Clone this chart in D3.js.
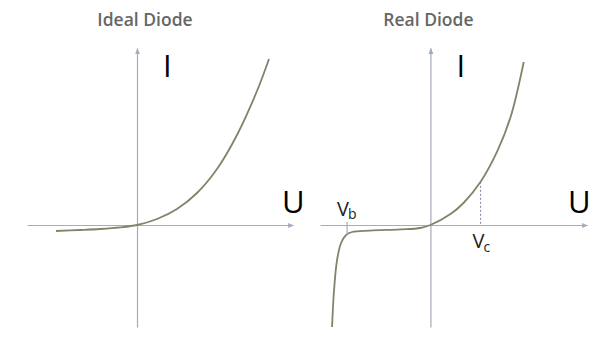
<!DOCTYPE html>
<html>
<head>
<meta charset="utf-8">
<script src="https://cdn.jsdelivr.net/npm/d3@7"></script>
<style>
  body { margin: 0; background: #fff; }
  svg { display: block; }
</style>
</head>
<body>
<div id="chart"></div>
<script>
// curve samples (U, I in arbitrary units)
const idealU = [-4.05, -2.85, -1.85, -0.85, 0, 1, 2, 3, 4, 5, 6, 6.6];
const idealI = [-0.3, -0.25, -0.2, -0.12, 0, 0.3, 0.8, 1.6, 2.8, 4.5, 6.7, 8.3];

const realU = [-4.9, -4.8, -4.65, -4.45, -4.2, -3.9, -3.0, -1.5, -0.5, 0, 1.0, 1.65, 2.5, 3.35, 4.0, 4.65];
const realI = [-5.1, -3.25, -1.75, -0.9, -0.5, -0.35, -0.28, -0.22, -0.15, 0, 0.55, 1.1, 2.16, 3.73, 5.42, 8.15];

const titles = ["Ideal Diode", "Real Diode"];
const axisLabelX = "U";
const axisLabelY = "I";

// marked voltages on the real diode
const vb = -4.15;
const vc = 2.5;
const vcCurrent = 2.16;

const width = 603;
const height = 339;

const svg = d3.select("#chart").append("svg")
    .attr("width", width)
    .attr("height", height)
    .attr("viewBox", [0, 0, width, height]);

const axisColor = "#a4abbb";
const curveColor = "#85826a";
const font = "Open Sans, sans-serif";

svg.append("defs").append("marker")
    .attr("id", "arrow")
    .attr("viewBox", "0 0 10 10")
    .attr("refX", 9)
    .attr("refY", 5)
    .attr("markerWidth", 6)
    .attr("markerHeight", 6)
    .attr("markerUnits", "userSpaceOnUse")
    .attr("orient", "auto")
  .append("path")
    .attr("d", "M0,1 L10,5 L0,9 Z")
    .attr("fill", axisColor);

function panel(left, right, uVals, iVals, title, titleShift, uLabelAt) {
  const x = d3.scaleLinear().domain([-5.5, 7.8]).range([left, right]);
  const y = d3.scaleLinear().domain([-5.1, 8.85]).range([327, 48]);

  const g = svg.append("g");

  // x axis through I = 0
  g.append("g")
      .attr("transform", `translate(0,${y(0)})`)
      .call(d3.axisBottom(x).tickValues([]).tickSizeOuter(0))
      .call(a => a.select(".domain")
          .attr("stroke", axisColor)
          .attr("stroke-width", 1.2)
          .attr("marker-end", "url(#arrow)"));

  // y axis through U = 0
  g.append("g")
      .attr("transform", `translate(${x(0)},0)`)
      .call(d3.axisLeft(y).tickValues([]).tickSizeOuter(0))
      .call(a => a.select(".domain")
          .attr("stroke", axisColor)
          .attr("stroke-width", 1.2)
          .attr("marker-end", "url(#arrow)"));

  const pts = uVals.map((u, i) => [u, iVals[i]]);
  const line = d3.line()
      .x(d => x(d[0]))
      .y(d => y(d[1]))
      .curve(d3.curveCatmullRom.alpha(0.5));

  g.append("path")
      .datum(pts)
      .attr("fill", "none")
      .attr("stroke", curveColor)
      .attr("stroke-width", 1.8)
      .attr("d", line);

  g.append("text")
      .attr("x", x(0) + titleShift)
      .attr("y", 26)
      .attr("text-anchor", "middle")
      .attr("font-family", font)
      .attr("font-weight", 600)
      .attr("font-size", 17.5)
      .attr("fill", "#666")
      .text(title);

  g.append("text")
      .attr("x", x(1.3))
      .attr("y", 77)
      .attr("font-family", font)
      .attr("font-size", 31)
      .attr("fill", "#000")
      .text(axisLabelY);

  g.append("text")
      .attr("x", x(uLabelAt))
      .attr("y", 213)
      .attr("font-family", font)
      .attr("font-size", 31)
      .attr("fill", "#000")
      .text(axisLabelX);

  return { g, x, y };
}

panel(27, 293, idealU, idealI, titles[0], 8, 7.25);
const p2 = panel(320, 587, realU, realI, titles[1], -2, 6.85);

// Vb tick and label
p2.g.append("line")
    .attr("x1", p2.x(vb)).attr("x2", p2.x(vb))
    .attr("y1", p2.y(0.15)).attr("y2", p2.y(-0.5))
    .attr("stroke", axisColor)
    .attr("stroke-width", 1.2);

const vbText = p2.g.append("text")
    .attr("x", p2.x(vb) - 10)
    .attr("y", 216)
    .attr("font-family", font)
    .attr("font-size", 20)
    .attr("fill", "#222");
vbText.append("tspan").text("V");
vbText.append("tspan").attr("font-size", 14).attr("dy", 3).attr("dx", -1).text("b");

// Vc dashed drop line and label
p2.g.append("line")
    .attr("x1", p2.x(vc)).attr("x2", p2.x(vc))
    .attr("y1", p2.y(vcCurrent)).attr("y2", p2.y(0))
    .attr("stroke", "#7d86a8")
    .attr("stroke-width", 1)
    .attr("stroke-dasharray", "2,2");

const vcText = p2.g.append("text")
    .attr("x", p2.x(vc) - 8)
    .attr("y", 248)
    .attr("font-family", font)
    .attr("font-size", 20)
    .attr("fill", "#222");
vcText.append("tspan").text("V");
vcText.append("tspan").attr("font-size", 14).attr("dy", 4).attr("dx", -1).text("c");
</script>
</body>
</html>
